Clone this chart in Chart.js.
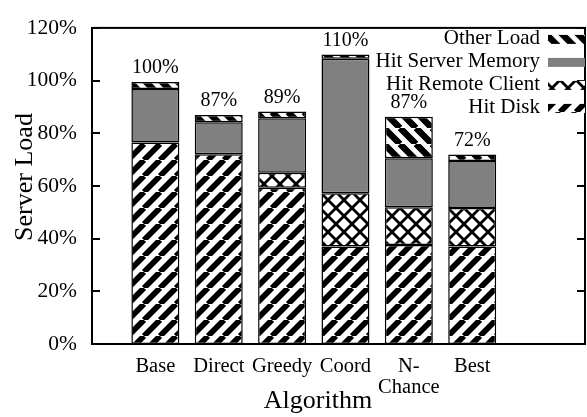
<!DOCTYPE html>
<html>
<head>
<meta charset="utf-8">
<script src="https://cdn.jsdelivr.net/npm/chart.js@4.4.1/dist/chart.umd.min.js"></script>
<style>
html,body{margin:0;padding:0;background:#fff;}
#wrap{width:587px;height:417px;}
</style>
</head>
<body>
<div id="wrap"><canvas id="chart" width="587" height="417"></canvas></div>
<script>
// ---- data ----
var algorithms = ['Base', 'Direct', 'Greedy', 'Coord', 'N-Chance', 'Best'];
var xPos = [1, 2, 3, 4, 5, 6];
var hitDisk   = [76.5, 72.0, 59.3, 37.0, 37.6, 37.0];
var hitRemote = [0,    0,    5.7,  20.2, 14.3, 14.6];
var hitMemory = [20.3, 12.2, 20.7, 51.1, 18.6, 17.9];
var otherLoad = [2.7,  2.7,  2.6,  1.6,  15.8, 2.4];
var totalLabels = ['100%', '87%', '89%', '110%', '87%', '72%'];
var legendOrder = ['Other Load', 'Hit Server Memory', 'Hit Remote Client', 'Hit Disk'];

var SERIF = '"Liberation Serif", "DejaVu Serif", serif';

var canvas = document.getElementById('chart');
var ctx = canvas.getContext('2d');

// hatch patterns, 16px tiles
function makePattern(kind, lw){
  var s = 16;
  var c = document.createElement('canvas');
  c.width = s; c.height = s;
  var g = c.getContext('2d');
  g.fillStyle = '#fff';
  g.fillRect(0, 0, s, s);
  g.strokeStyle = '#000';
  g.lineWidth = lw;
  g.beginPath();
  for(var k = -1; k <= 1; k++){
    if(kind === 'fwd' || kind === 'cross'){ // '/'
      g.moveTo(k*s, s); g.lineTo(k*s + s, 0);
    }
    if(kind === 'back' || kind === 'cross'){ // '\'
      g.moveTo(k*s, 0); g.lineTo(k*s + s, s);
    }
  }
  g.stroke();
  return ctx.createPattern(c, 'repeat');
}
var patDisk = makePattern('fwd', 5.8);
var patOther = makePattern('back', 6.5);
var patCross = makePattern('cross', 2.8);

function pts(arr){
  return arr.map(function(v, i){ return {x: xPos[i], y: v}; });
}
function ds(label, arr, fill){
  return {label: label, data: pts(arr), backgroundColor: fill, borderColor: '#000',
          borderWidth: 1.5, borderSkipped: false, barPercentage: 0.757, categoryPercentage: 1};
}

// frame with inward ticks
var framePlugin = {
  id: 'frame',
  afterDraw: function(chart){
    var a = chart.chartArea, c = chart.ctx, y = chart.scales.y;
    c.save();
    c.strokeStyle = '#000';
    c.lineWidth = 2;
    c.strokeRect(a.left, a.top, a.right - a.left, a.bottom - a.top);
    c.beginPath();
    y.ticks.forEach(function(t){
      var py = Math.round(y.getPixelForValue(t.value));
      c.moveTo(a.left, py); c.lineTo(a.left + 8, py);
      c.moveTo(a.right, py); c.lineTo(a.right - 8, py);
    });
    c.stroke();
    c.restore();
  }
};

// totals above bars
var totalsPlugin = {
  id: 'totals',
  afterDatasetsDraw: function(chart){
    var c = chart.ctx;
    var n = chart.data.datasets.length;
    var meta = chart.getDatasetMeta(n - 1);
    c.save();
    c.fillStyle = '#000';
    c.font = '20px ' + SERIF;
    c.textAlign = 'center';
    c.textBaseline = 'middle';
    meta.data.forEach(function(bar, i){
      c.fillText(totalLabels[i], bar.x, bar.y - 14);
    });
    c.restore();
  }
};

// legend in the top right corner, text left of swatch
var keyPlugin = {
  id: 'key',
  afterDraw: function(chart){
    var c = chart.ctx, a = chart.chartArea;
    c.save();
    c.font = '21px ' + SERIF;
    c.fillStyle = '#000';
    c.textAlign = 'right';
    c.textBaseline = 'middle';
    legendOrder.forEach(function(name, i){
      var d = chart.data.datasets.find(function(x){ return x.label === name; });
      var cy = a.top + 11 + i*23;
      c.fillStyle = '#000';
      c.fillText(name, a.right - 45, cy);
      c.fillStyle = d.backgroundColor;
      c.fillRect(a.right - 37, cy - 4, 37, 9);
    });
    c.restore();
  }
};

// axis titles
var titlesPlugin = {
  id: 'titles',
  afterDraw: function(chart){
    var c = chart.ctx;
    c.save();
    c.fillStyle = '#000';
    c.font = '26px ' + SERIF;
    c.textAlign = 'center';
    c.textBaseline = 'middle';
    c.fillText('Algorithm', 318, 401);
    c.translate(25, 177);
    c.rotate(-Math.PI/2);
    c.fillText('Server Load', 0, 0);
    c.restore();
  }
};

new Chart(ctx, {
  type: 'bar',
  data: {
    datasets: [
      ds('Hit Disk', hitDisk, patDisk),
      ds('Hit Remote Client', hitRemote, patCross),
      ds('Hit Server Memory', hitMemory, '#808080'),
      ds('Other Load', otherLoad, patOther)
    ]
  },
  options: {
    responsive: false,
    animation: false,
    devicePixelRatio: 1,
    layout: {padding: {top: 17, right: 2, left: 0, bottom: 0}},
    plugins: {legend: {display: false}, tooltip: {enabled: false}},
    scales: {
      x: {
        type: 'linear', stacked: true, min: 0, max: 7.78, offset: false,
        afterBuildTicks: function(s){ s.ticks = xPos.map(function(v){ return {value: v}; }); },
        afterFit: function(s){ s.height = 73; },
        grid: {display: false, drawTicks: false, offset: false},
        border: {display: false},
        ticks: {
          autoSkip: false, maxRotation: 0, padding: 12.5, color: '#000',
          font: {family: SERIF, size: 20.5, lineHeight: 1},
          callback: function(v){
            var name = algorithms[xPos.indexOf(v)] || '';
            return name === 'N-Chance' ? ['N-', 'Chance'] : name;
          }
        }
      },
      y: {
        stacked: true, min: 0, max: 120,
        afterFit: function(s){ s.width = 92; },
        grid: {display: false, drawTicks: false},
        border: {display: false},
        ticks: {
          stepSize: 20, padding: 15, color: '#000',
          font: {family: SERIF, size: 21.5},
          callback: function(v){ return v + '%'; }
        }
      }
    }
  },
  plugins: [framePlugin, totalsPlugin, keyPlugin, titlesPlugin]
});
</script>
</body>
</html>
